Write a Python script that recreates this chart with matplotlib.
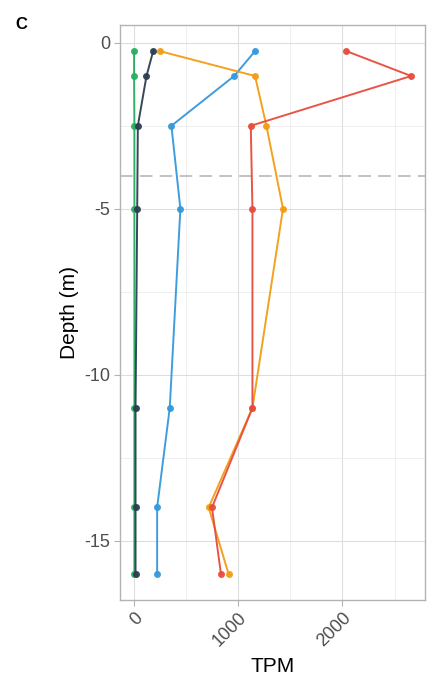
import matplotlib
matplotlib.use("Agg")
import matplotlib.pyplot as plt
from matplotlib.ticker import MultipleLocator

plt.rcParams["font.family"] = ["Liberation Sans", "DejaVu Sans"]
plt.rcParams["axes.unicode_minus"] = False

# depth of each sample (m)
depth = [-0.25, -1.0, -2.5, -5.0, -11.0, -14.0, -16.0]

# TPM per gene, one list per series
tpm_green = [2, 2, 5, 5, 5, 5, 5]
tpm_blue = [1162, 962, 360, 446, 344, 223, 223]
tpm_orange = [249, 1162, 1271, 1430, 1137, 717, 908]
tpm_red = [2038, 2659, 1121, 1137, 1137, 749, 835]
tpm_navy = [185, 121, 38, 32, 16, 16, 16]

series = [
    (tpm_green, "#27AE60"),
    (tpm_blue, "#3498DB"),
    (tpm_orange, "#F39C12"),
    (tpm_red, "#E74C3C"),
    (tpm_navy, "#2C3E50"),
]

x_ticks = [0, 1000, 2000]
y_ticks = [0, -5, -10, -15]
cutoff_depth = -4.0

fig = plt.figure(figsize=(4.28, 6.75), dpi=100)
ax = fig.add_axes([0.2804, 0.1111, 0.7126, 0.8519])

for vals, col in series:
    ax.plot(vals, depth, color=col, lw=1.4, marker="o", ms=5,
            markeredgewidth=0, alpha=0.95, zorder=3)

ax.axhline(cutoff_depth, color="#BDBDBD", lw=1.3, ls=(0, (7, 4)), zorder=2)

# ggplot-like 5% expansion
xmin, xmax = 0, max(max(v) for v, _ in series)
ymin, ymax = min(depth), max(depth)
xpad = (xmax - xmin) * 0.05
ypad = (ymax - ymin) * 0.05
ax.set_xlim(xmin - xpad, xmax + xpad)
ax.set_ylim(ymin - ypad, ymax + ypad)

ax.set_xticks(x_ticks)
ax.set_yticks(y_ticks)
ax.xaxis.set_minor_locator(MultipleLocator(500))
ax.yaxis.set_minor_locator(MultipleLocator(2.5))
ax.grid(which="major", color="#DEDEDE", lw=0.8)
ax.grid(which="minor", color="#EDEDED", lw=0.6)
ax.set_axisbelow(True)

for s in ax.spines.values():
    s.set_color("#B3B3B3")
    s.set_linewidth(1.0)

ax.tick_params(which="major", length=4, color="#B3B3B3", labelcolor="#4D4D4D",
               labelsize=13, pad=3)
ax.tick_params(which="minor", length=0)
for lab in ax.get_xticklabels():
    lab.set_rotation(45)
    lab.set_ha("right")
    lab.set_va("top")
    lab.set_rotation_mode("anchor")

ax.set_xlabel("TPM", fontsize=15, labelpad=5)
ax.set_ylabel("Depth (m)", fontsize=15, labelpad=4)

fig.text(0.035, 0.975, "C", fontsize=12, fontweight="bold", va="top", ha="left")

fig.savefig("out.png", dpi=100)
